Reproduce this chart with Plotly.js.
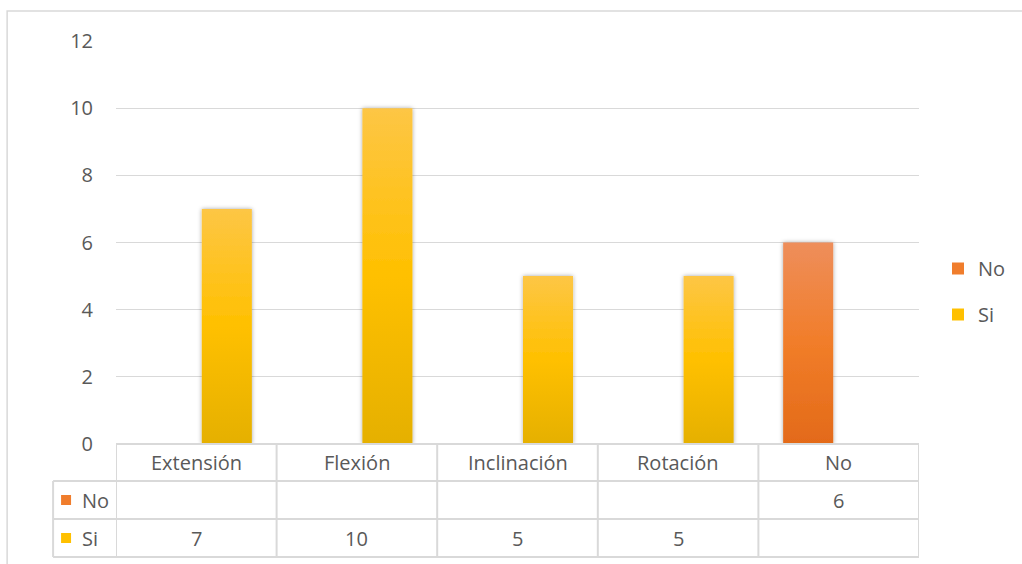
<!DOCTYPE html>
<html>
<head>
<meta charset="utf-8">
<script src="https://cdn.plot.ly/plotly-3.0.1.min.js"></script>
<style>
  html, body { margin: 0; padding: 0; background: #ffffff; }
  #chart { width: 1022px; height: 564px; }
</style>
</head>
<body>
<div id="chart"></div>
<script>
// Movement categories and the two answer series
const categories = ["Extensión", "Flexión", "Inclinación", "Rotación", "No"];
const seriesNames = ["No", "Si"];
const valuesNo = [null, null, null, null, 6];
const valuesSi = [7, 10, 5, 5, null];
const yTicks = [0, 2, 4, 6, 8, 10, 12];

const FONT = "Open Sans, Liberation Sans, sans-serif";
const FSIZE = 20;
const TEXT = "#595959";
const GRID = "#D9D9D9";
const COLOR_NO = "#F07D2C";
const COLOR_SI = "#FFC000";

// Row layout of the data table drawn under the axis (paper units, plot height = 403px)
const PLOT_H = 403, PLOT_W = 804;
const py = px => -px / PLOT_H;          // px below the axis line
const pxX = px => px / PLOT_W;          // px right of the plot's left edge
const rowTop = [0, py(37), py(75)];
const rowBottom = py(113);
const labelColX = pxX(-63);

const traces = [
  { type: "bar", name: seriesNames[0], x: categories, y: valuesNo,
    marker: { color: COLOR_NO }, legendgroup: "g0", hoverinfo: "x+y" },
  { type: "bar", name: seriesNames[1], x: categories, y: valuesSi,
    marker: { color: COLOR_SI }, legendgroup: "g1", hoverinfo: "x+y" }
];

const shapes = [];
const annotations = [];
const line = { color: GRID, width: 2 };
const textFont = { family: FONT, size: FSIZE, color: TEXT };

// outer chart frame
shapes.push({ type: "rect", xref: "paper", yref: "paper",
  x0: pxX(-109), x1: pxX(920), y0: py(130), y1: (444 - 11) / PLOT_H,
  line: { color: GRID, width: 1.5 }, fillcolor: "rgba(0,0,0,0)", layer: "below" });

// table horizontal rules
shapes.push({ type: "line", xref: "paper", yref: "paper", x0: 0, x1: 1, y0: 0, y1: 0, line });
[rowTop[1], rowTop[2], rowBottom].forEach(y => {
  shapes.push({ type: "line", xref: "paper", yref: "paper", x0: labelColX, x1: 1, y0: y, y1: y, line });
});
// table vertical rules at the category boundaries
for (let i = 0; i <= categories.length; i++) {
  shapes.push({ type: "line", xref: "x", yref: "paper", x0: i - 0.5, x1: i - 0.5,
    y0: 0, y1: rowBottom, line });
}
shapes.push({ type: "line", xref: "paper", yref: "paper", x0: labelColX, x1: labelColX,
  y0: rowTop[1], y1: rowBottom, line });

// header row: category names
categories.forEach(c => {
  annotations.push({ xref: "x", yref: "paper", x: c, y: (rowTop[0] + rowTop[1]) / 2,
    text: c, showarrow: false, yanchor: "middle", font: textFont });
});

// data rows with their legend keys
const rows = [
  { name: seriesNames[0], values: valuesNo, color: COLOR_NO, top: rowTop[1], bottom: rowTop[2] },
  { name: seriesNames[1], values: valuesSi, color: COLOR_SI, top: rowTop[2], bottom: rowBottom }
];
rows.forEach(r => {
  const mid = (r.top + r.bottom) / 2;
  shapes.push({ type: "rect", xref: "paper", yref: "paper",
    x0: pxX(-55), x1: pxX(-45), y0: mid - 5 / PLOT_H, y1: mid + 5 / PLOT_H,
    fillcolor: r.color, line: { width: 0 } });
  annotations.push({ xref: "paper", yref: "paper", x: pxX(-36), y: mid, xanchor: "left",
    yanchor: "middle", text: r.name, showarrow: false, font: textFont });
  r.values.forEach((v, i) => {
    if (v === null) return;
    annotations.push({ xref: "x", yref: "paper", x: categories[i], y: mid, yanchor: "middle",
      text: String(v), showarrow: false, font: textFont });
  });
});

const layout = {
  width: 1022, height: 564,
  margin: { l: 116, r: 102, t: 41, b: 120 },
  paper_bgcolor: "#ffffff", plot_bgcolor: "#ffffff",
  barmode: "group", bargap: 0.24, bargroupgap: 0.18,
  font: { family: FONT, color: TEXT },
  xaxis: { type: "category", range: [-0.5, 4.5], showticklabels: false, showgrid: false,
    zeroline: false, showline: false, ticks: "" },
  yaxis: { range: [0, 12], tickvals: yTicks, showgrid: true, gridcolor: GRID, gridwidth: 1.3,
    zeroline: false, showline: false, ticks: "", ticklabelstandoff: 22,
    tickfont: textFont },
  showlegend: true,
  legend: { x: pxX(822), xanchor: "left", y: (444 - 249) / PLOT_H, yanchor: "top",
    traceorder: "grouped", tracegroupgap: 17,
    font: textFont, bgcolor: "rgba(0,0,0,0)" },
  shapes, annotations
};

// vertical gradients for the bar fills, keyed by trace index
const gradients = [
  ["#EE8E5B", "#F17D29", "#E36A19"],
  ["#FDC645", "#FFC000", "#E5B000"]
];

Plotly.newPlot("chart", traces, layout, { staticPlot: true, displayModeBar: false }).then(gd => {
  const NS = "http://www.w3.org/2000/svg";
  const svg = gd.querySelector(".main-svg");
  let defs = svg.querySelector("defs");
  if (!defs) { defs = document.createElementNS(NS, "defs"); svg.insertBefore(defs, svg.firstChild); }

  const filter = document.createElementNS(NS, "filter");
  filter.setAttribute("id", "barShadow");
  filter.setAttribute("x", "-20%"); filter.setAttribute("y", "-5%");
  filter.setAttribute("width", "140%"); filter.setAttribute("height", "110%");
  const ds = document.createElementNS(NS, "feDropShadow");
  ds.setAttribute("dx", "0"); ds.setAttribute("dy", "0");
  ds.setAttribute("stdDeviation", "2.2"); ds.setAttribute("flood-color", "#000");
  ds.setAttribute("flood-opacity", "0.35");
  filter.appendChild(ds); defs.appendChild(filter);

  gradients.forEach((stops, i) => {
    const g = document.createElementNS(NS, "linearGradient");
    g.setAttribute("id", "barGrad" + i);
    g.setAttribute("x1", "0"); g.setAttribute("y1", "0");
    g.setAttribute("x2", "0"); g.setAttribute("y2", "1");
    stops.forEach((c, k) => {
      const s = document.createElementNS(NS, "stop");
      s.setAttribute("offset", String(k / (stops.length - 1)));
      s.setAttribute("stop-color", c);
      g.appendChild(s);
    });
    defs.appendChild(g);
  });

  gd.querySelectorAll(".barlayer .trace").forEach((tr, i) => {
    tr.querySelectorAll(".point path").forEach(p => {
      p.style.fill = "url(#barGrad" + i + ")";
      p.setAttribute("filter", "url(#barShadow)");
    });
  });
});
</script>
</body>
</html>
